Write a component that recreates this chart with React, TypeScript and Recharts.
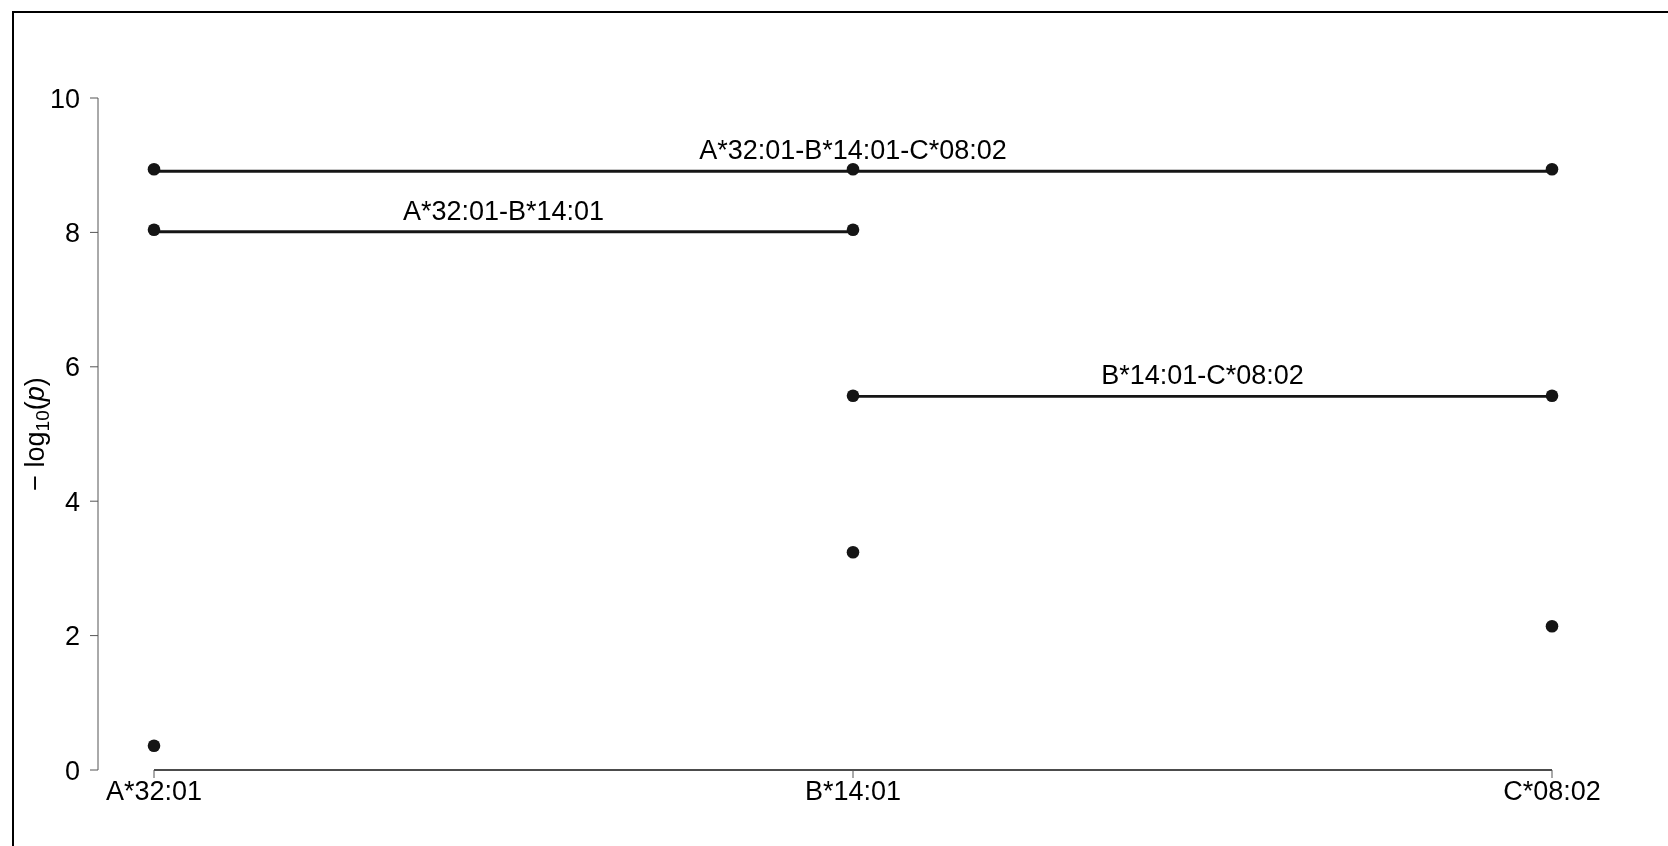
import { ComposedChart, Line, Scatter, XAxis, YAxis, ReferenceLine, Label } from "recharts"

// alleles along the x axis
const categories = ["A*32:01", "B*14:01", "C*08:02"]
const yTicks = [0, 2, 4, 6, 8, 10]

// single allele / haplotype end points (-log10 p)
const aValues = [8.94, 8.04, 0.36]
const bValues = [8.94, 8.04, 5.57, 3.24]
const cValues = [8.94, 5.57, 2.14]

// haplotype segments
const haplotypeNames = ["A*32:01-B*14:01-C*08:02", "A*32:01-B*14:01", "B*14:01-C*08:02"]
const haplotypeFrom = [0, 0, 1]
const haplotypeTo = [2, 1, 2]
const haplotypeValues = [8.91, 8.01, 5.56]

const FONT = "'Liberation Sans', Arial, sans-serif"
const INK = "#151515"

const points = [
  ...aValues.map(y => ({ x: 0, y })),
  ...bValues.map(y => ({ x: 1, y })),
  ...cValues.map(y => ({ x: 2, y })),
]

const segments = haplotypeNames.map((name, i) => ({
  name,
  data: [
    { x: haplotypeFrom[i], y: haplotypeValues[i] },
    { x: haplotypeTo[i], y: haplotypeValues[i] },
  ],
}))

const labelPoints = haplotypeNames.map((name, i) => ({
  name,
  x: (haplotypeFrom[i] + haplotypeTo[i]) / 2,
  y: haplotypeValues[i],
}))

const YLabel = (props: any) => {
  const vb = props.viewBox
  const cx = 27
  const cy = vb.y + vb.height / 2
  return (
    <text
      x={cx}
      y={cy}
      transform={`rotate(-90, ${cx}, ${cy})`}
      textAnchor="middle"
      dominantBaseline="central"
      fontSize={27}
      fill="#000"
      fontFamily={FONT}
    >
      − log
      <tspan dy={7} fontSize={19}>10</tspan>
      <tspan dy={-7}>(</tspan>
      <tspan fontStyle="italic">p</tspan>
      <tspan>)</tspan>
    </text>
  )
}

const HapLabel = (props: any) => (
  <text x={props.cx} y={props.cy - 12} textAnchor="middle" fontSize={27} fill="#000" fontFamily={FONT}>
    {props.payload.name}
  </text>
)

const Dot = (props: any) => <circle cx={props.cx} cy={props.cy} r={6.3} fill={INK} />

const App = () => {
  return (
    <div style={{ position: "relative", width: 1652, height: 830 }}>
      {/* figure frame, cut by the page edge on the right and bottom */}
      <div
        style={{
          position: "fixed",
          left: 12,
          top: 11,
          right: -20,
          bottom: -20,
          border: "2px solid #000",
          pointerEvents: "none",
        }}
      />
      <ComposedChart
        width={1652}
        height={830}
        margin={{ top: 90, right: 60, bottom: 28, left: 0 }}
      >
        <XAxis
          type="number"
          dataKey="x"
          domain={[0, 2]}
          ticks={[0, 1, 2]}
          tickFormatter={(v: number) => categories[v]}
          padding={{ left: 56, right: 48 }}
          axisLine={false}
          tickLine={{ stroke: "#555" }}
          tickSize={8}
          tickMargin={3}
          height={40}
          tick={{ fontSize: 27, fill: "#000", fontFamily: FONT }}
        />
        <YAxis
          type="number"
          domain={[0, 10]}
          ticks={yTicks}
          width={90}
          axisLine={{ stroke: "#555" }}
          tickLine={{ stroke: "#555" }}
          tickSize={8}
          tickMargin={10}
          tick={{ fontSize: 27, fill: "#000", fontFamily: FONT }}
        >
          <Label content={<YLabel />} />
        </YAxis>
        <ReferenceLine
          segment={[{ x: 0, y: 0 }, { x: 2, y: 0 }]}
          stroke="#111"
          strokeWidth={1.5}
          ifOverflow="visible"
        />
        {segments.map(s => (
          <Line
            key={s.name}
            data={s.data}
            dataKey="y"
            stroke={INK}
            strokeWidth={2.8}
            dot={false}
            activeDot={false}
            isAnimationActive={false}
          />
        ))}
        <Scatter data={points} dataKey="y" shape={<Dot />} isAnimationActive={false} />
        <Scatter data={labelPoints} dataKey="y" shape={<HapLabel />} isAnimationActive={false} />
      </ComposedChart>
    </div>
  )
}

export default App
